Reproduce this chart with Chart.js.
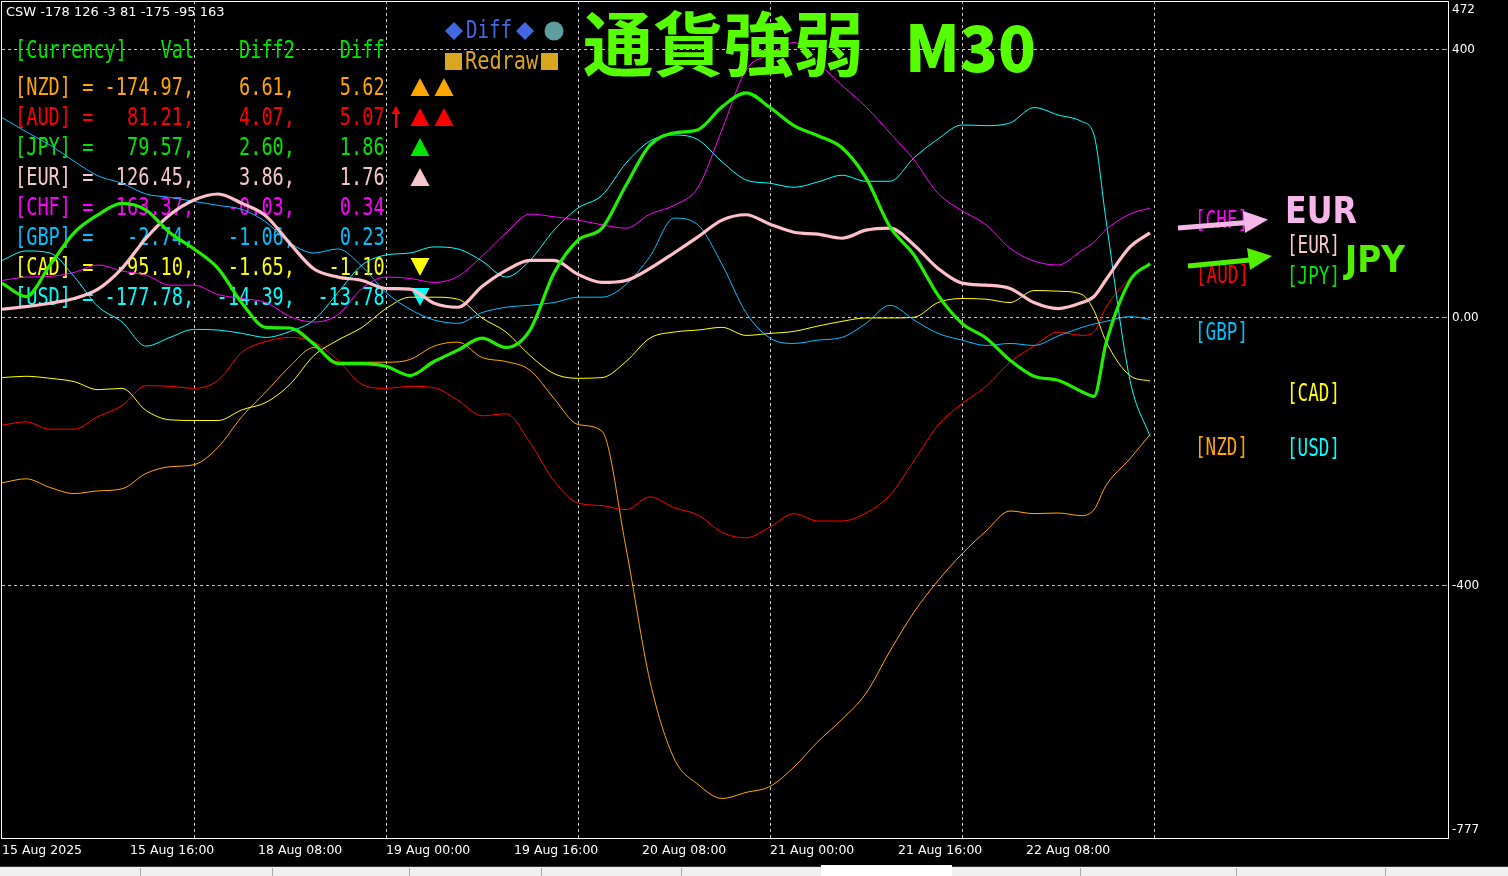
<!DOCTYPE html>
<html><head><meta charset="utf-8">
<script src="https://cdn.jsdelivr.net/npm/chart.js@4/dist/chart.umd.min.js"></script>
<style>html,body{margin:0;padding:0;background:#000;overflow:hidden}#wrap{position:relative;width:1508px;height:876px}canvas{display:block}</style>
</head><body><div id="wrap"><canvas id="c" width="1508" height="876"></canvas></div>
<script>
// ---- data (x = M30 bar index from 15 Aug 2025 00:00) ----
const bars = [0,6,12,18,24,30,36,42,48,54,60,66,72,78,84,90,96,102,108,114,120,126,132,138,144,150,156,162,168,174,180,186,192,198,204,210,216,222,228,234,240,246,252,258,264,270,273,276,282,287];
const JPY = [51,31,78,126,153,170,160,126,102,73, 21,-15,-16,-40,-69,-69,-73,-87,-66,-49, -31,-45,-19,66,115,133,197,257,275,280, 314,335,313,286,271,253,208,135,93,33, -9,-31,-64,-88,-94,-111,-118,-39,55,80];
const EUR = [12,16,21,28,42,73,118,153,175,184, 170,151,110,72,60,55,43,42,21,15, 46,70,85,85,64,52,55,73,96,120, 145,153,139,127,124,118,130,133,108,73, 51,48,43,22,13,22,31,56,105,126];
const CHF = [55,60,61,67,78,69,63,48,48,34, 28,22,1,-7,4,43,60,58,52,61, 91,126,154,150,145,138,133,154,167,194, 280,369,392,410,380,346,314,275,235,185, 159,138,103,84,78,100,112,131,154,163];
const USD = [85,99,96,61,16,-7,-43,-30,-18,-19, -24,-30,-21,-4,37,78,93,96,105,102, 84,60,85,130,163,182,230,263,272,265, 232,205,200,194,202,212,203,203,238,266, 287,286,290,313,302,292,272,145,-94,-178];
const GBP = [298,277,257,233,211,200,184,179,173,167, 161,142,111,96,102,76,37,12,-4,-9, 7,15,18,22,30,30,49,91,148,138, 79,7,-31,-39,-34,-30,-9,18,-4,-24, -34,-42,-39,-42,-28,-15,-10,-6,1,-3];
const CAD = [-90,-88,-91,-96,-108,-106,-139,-153,-154,-154, -138,-127,-100,-57,-34,-15,13,30,30,27, -1,-22,-57,-84,-91,-90,-66,-31,-22,-19, -15,-27,-24,-21,-13,-6,-1,-1,0,22, 28,27,22,40,39,34,10,-36,-87,-95];
const AUD = [-161,-156,-167,-167,-148,-132,-102,-103,-106,-94, -52,-36,-30,-37,-64,-100,-106,-103,-105,-124, -147,-144,-187,-244,-277,-281,-287,-268,-284,-295, -321,-329,-313,-293,-304,-304,-292,-265,-214,-161, -129,-103,-67,-43,-22,-27,-22,15,58,81];
const NZD = [-247,-241,-254,-263,-259,-256,-233,-223,-220,-194, -148,-111,-73,-45,-67,-67,-67,-63,-43,-37, -60,-66,-79,-121,-160,-170,-344,-543,-658,-697, -718,-709,-700,-671,-633,-600,-561,-498,-440,-393, -353,-319,-289,-293,-292,-296,-287,-251,-211,-175];

const xTickBars = [0,32,64,96,128,160,192,224,256];
const xTickLabels = ['15 Aug 2025','15 Aug 16:00','18 Aug 08:00','19 Aug 00:00','19 Aug 16:00','20 Aug 08:00','21 Aug 00:00','21 Aug 16:00','22 Aug 08:00'];
const xGridBars = [48,96,144,192,240,288];
const yTicks = [472,400,0,-400,-777];
const yTickLabels = ['472','400','0.00','-400','-777'];
const yGrid = [400,0,-400];

const tableCur = ['NZD','AUD','JPY','EUR','CHF','GBP','CAD','USD'];
const tableVal = [-174.97,81.21,79.57,126.45,163.37,-2.74,-95.10,-177.78];
const tableDiff2 = [6.61,4.07,2.60,3.86,-0.03,-1.06,-1.65,-14.39];
const tableDiff = [5.62,5.07,1.86,1.76,0.34,0.23,-1.10,-13.78];
const tableMarks = ['▲▲','↑▲▲','▲','▲','','','▼','▼'];
const headerText = 'CSW -178 126 -3 81 -175 -95 163';

const textColors = {NZD:'#FFA500',AUD:'#FF0000',JPY:'#00E600',EUR:'#F5C6CE',CHF:'#FF00FF',GBP:'#00BFFF',CAD:'#FFFF00',USD:'#00FFFF'};

const seriesDefs = [
  {label:'JPY', data:JPY, color:'#22F000', width:3.2},
  {label:'EUR', data:EUR, color:'#FFC0CB', width:3.2},
  {label:'CHF', data:CHF, color:'#FF00FF', width:1},
  {label:'USD', data:USD, color:'#00FFFF', width:1},
  {label:'GBP', data:GBP, color:'#00BFFF', width:1},
  {label:'CAD', data:CAD, color:'#FFFF00', width:1},
  {label:'AUD', data:AUD, color:'#FF0000', width:1},
  {label:'NZD', data:NZD, color:'#FFA500', width:1}
];

function mono(ctx, text, x, y, size, cw, color){
  ctx.save();
  ctx.font = size + 'px "DejaVu Sans Mono"';
  const m = ctx.measureText('M').width;
  ctx.translate(x, y); ctx.scale(cw / m, 1);
  ctx.fillStyle = color; ctx.textBaseline = 'middle'; ctx.textAlign = 'left';
  ctx.fillText(text, 0, 0);
  ctx.restore();
}
function fit(ctx, text, x, y, font, width, color){
  ctx.save();
  ctx.font = font;
  const w = ctx.measureText(text).width;
  ctx.translate(x, y); ctx.scale(width / w, 1);
  ctx.fillStyle = color; ctx.textBaseline = 'alphabetic'; ctx.textAlign = 'left';
  ctx.fillText(text, 0, 0);
  ctx.restore();
}
function tri(ctx, cx, cy, up, color){
  ctx.beginPath();
  if (up){ ctx.moveTo(cx, cy-9); ctx.lineTo(cx+9.5, cy+9); ctx.lineTo(cx-9.5, cy+9); }
  else { ctx.moveTo(cx-9.5, cy-9); ctx.lineTo(cx+9.5, cy-9); ctx.lineTo(cx, cy+9); }
  ctx.closePath(); ctx.fillStyle = color; ctx.fill();
}
function arrow(ctx, x0, y0, x1, y1, hx1, hy1, tx, ty, hx2, hy2, color){
  ctx.save();
  ctx.strokeStyle = color; ctx.lineWidth = 5; ctx.lineCap = 'butt';
  ctx.beginPath(); ctx.moveTo(x0, y0); ctx.lineTo(x1, y1); ctx.stroke();
  ctx.beginPath(); ctx.moveTo(hx1, hy1); ctx.lineTo(tx, ty); ctx.lineTo(hx2, hy2); ctx.closePath();
  ctx.fillStyle = color; ctx.fill();
  ctx.restore();
}

const decor = {
  id: 'decor',
  beforeDraw(chart){
    const ctx = chart.ctx;
    ctx.save();
    ctx.fillStyle = '#000'; ctx.fillRect(0, 0, chart.width, chart.height);
    ctx.fillStyle = '#F0F0F0'; ctx.fillRect(0, 866, 1508, 10);
    ctx.fillStyle = '#FFFFFF'; ctx.fillRect(821, 865, 131, 11);
    ctx.strokeStyle = '#303030'; ctx.lineWidth = 1;
    ctx.beginPath(); ctx.moveTo(0, 866.5); ctx.lineTo(821, 866.5); ctx.moveTo(952, 866.5); ctx.lineTo(1508, 866.5); ctx.stroke();
    ctx.strokeStyle = '#A8A8A8';
    ctx.beginPath();
    [140,272,409,541,681,1080,1236,1385].forEach(x=>{ctx.moveTo(x+0.5, 868); ctx.lineTo(x+0.5, 876);});
    ctx.stroke();
    ctx.restore();
  },
  beforeDatasetsDraw(chart){
    const ctx = chart.ctx, xs = chart.scales.x, ys = chart.scales.y, a = chart.chartArea;
    ctx.save();
    ctx.strokeStyle = '#C8C8C8'; ctx.lineWidth = 1; ctx.setLineDash([3,3]);
    ctx.beginPath();
    yGrid.forEach(v=>{ const y = Math.round(ys.getPixelForValue(v)) + 0.5; ctx.moveTo(a.left, y); ctx.lineTo(a.right, y); });
    xGridBars.forEach(b=>{ const x = Math.round(xs.getPixelForValue(b)) + 0.5; ctx.moveTo(x, a.top); ctx.lineTo(x, a.bottom); });
    ctx.stroke();
    ctx.setLineDash([]);
    ctx.font = '13px "DejaVu Sans"'; ctx.fillStyle = '#FFFFFF'; ctx.textBaseline = 'middle';
    ctx.fillText(headerText, 6, 13);
    const cw = 11.2, x0 = 15;
    mono(ctx, '[Currency]   Val    Diff2    Diff', x0, 51.5, 24, cw, '#00E600');
    tableCur.forEach((c, i)=>{
      const y = 87 + 30*i;
      const s = '[' + c + '] = ' + tableVal[i].toFixed(2).padStart(7) + ',' + tableDiff2[i].toFixed(2).padStart(8) + ',' + tableDiff[i].toFixed(2).padStart(8);
      mono(ctx, s, x0, y + 1.5, 24, cw, textColors[c]);
      const mk = tableMarks[i];
      let tx = 420;
      for (const ch of mk){
        if (ch === '↑'){
          ctx.save(); ctx.strokeStyle = textColors[c]; ctx.fillStyle = textColors[c]; ctx.lineWidth = 2;
          ctx.beginPath(); ctx.moveTo(396, y+11); ctx.lineTo(396, y-6); ctx.stroke();
          ctx.beginPath(); ctx.moveTo(396, y-11); ctx.lineTo(400.5, y-3); ctx.lineTo(391.5, y-3); ctx.closePath(); ctx.fill();
          ctx.restore();
          continue;
        }
        tri(ctx, tx, y, ch === '▲', textColors[c]);
        tx += 24;
      }
    });
    ctx.fillStyle = '#4169E1';
    [[454,31],[525,31]].forEach(([cx,cy])=>{ ctx.beginPath(); ctx.moveTo(cx, cy-9); ctx.lineTo(cx+9, cy); ctx.lineTo(cx, cy+9); ctx.lineTo(cx-9, cy); ctx.closePath(); ctx.fill(); });
    mono(ctx, 'Diff', 466, 32, 24, 11.5, '#4169E1');
    ctx.fillStyle = '#5F9EA0'; ctx.beginPath(); ctx.arc(554, 31, 9.5, 0, Math.PI*2); ctx.fill();
    ctx.fillStyle = '#DAA520';
    ctx.fillRect(445, 53, 17, 17); ctx.fillRect(541, 53, 17, 17);
    mono(ctx, 'Redraw', 465, 63, 24, 12.2, '#DAA520');
    ctx.restore();
  },
  afterDatasetsDraw(chart){
    const ctx = chart.ctx, xs = chart.scales.x, ys = chart.scales.y;
    ctx.save();
    fit(ctx, '通貨強弱', 583, 71, 'bold 70px "Noto Sans CJK JP"', 281, '#56FF00');
    fit(ctx, 'M30', 905, 72, '900 64px "Noto Sans CJK JP"', 131, '#56FF00');
    ctx.strokeStyle = '#FFFFFF'; ctx.lineWidth = 1;
    ctx.strokeRect(1.5, 1.5, 1447, 837);
    ctx.strokeStyle = '#9A9A9A';
    ctx.beginPath();
    yGrid.forEach(v=>{ const y = Math.round(ys.getPixelForValue(v)) + 0.5; ctx.moveTo(1443, y); ctx.lineTo(1447, y); });
    ctx.stroke();
    ctx.font = '12px "DejaVu Sans"'; ctx.fillStyle = '#FFFFFF'; ctx.textAlign = 'left';
    yTicks.forEach((v, i)=>{
      let y = ys.getPixelForValue(v);
      if (i === 0){ ctx.textBaseline = 'top'; y = 4; }
      else if (i === yTicks.length - 1){ ctx.textBaseline = 'bottom'; y = 836; }
      else ctx.textBaseline = 'middle';
      ctx.fillText(yTickLabels[i], 1452, y + (ctx.textBaseline === 'middle' ? 1 : 0));
    });
    ctx.font = '12.5px "DejaVu Sans"';
    ctx.textBaseline = 'middle';
    xTickBars.forEach((b, i)=>{ ctx.fillText(xTickLabels[i], xs.getPixelForValue(b), 851); });
    const cw2 = 10.6;
    mono(ctx, '[CHF]', 1195, 221.5, 24, cw2, textColors.CHF);
    mono(ctx, '[AUD]', 1196, 276.5, 24, cw2, textColors.AUD);
    mono(ctx, '[GBP]', 1195, 333.5, 24, cw2, textColors.GBP);
    mono(ctx, '[NZD]', 1195, 448.5, 24, cw2, textColors.NZD);
    mono(ctx, '[EUR]', 1287, 246.5, 24, cw2, textColors.EUR);
    mono(ctx, '[JPY]', 1287, 277.5, 24, cw2, textColors.JPY);
    mono(ctx, '[CAD]', 1287, 394.5, 24, cw2, textColors.CAD);
    mono(ctx, '[USD]', 1287, 449.5, 24, cw2, textColors.USD);
    arrow(ctx, 1178, 228, 1247, 222.5, 1243, 211, 1268, 219.5, 1245, 233, '#F7B6EA');
    arrow(ctx, 1188, 266, 1250, 260, 1247, 248, 1272, 256, 1250, 270, '#50F000');
    fit(ctx, 'EUR', 1285, 223, 'bold 38px "DejaVu Sans"', 72, '#F7B6EA');
    fit(ctx, 'JPY', 1345, 272, 'bold 38px "DejaVu Sans"', 60, '#50F000');
    ctx.restore();
  }
};

const datasets = seriesDefs.map((s, i)=>({
  label: s.label,
  data: bars.map((b, j)=>({x: b, y: s.data[j]})),
  borderColor: s.color,
  borderWidth: s.width,
  pointRadius: 0,
  fill: false,
  cubicInterpolationMode: 'monotone',
  borderJoinStyle: 'round',
  order: i
}));

new Chart(document.getElementById('c'), {
  type: 'line',
  data: { datasets },
  options: {
    responsive: false,
    animation: false,
    devicePixelRatio: 1,
    layout: { padding: { left: 2, right: 59, top: 1, bottom: 38 } },
    plugins: { legend: { display: false }, tooltip: { enabled: false } },
    scales: {
      x: { type: 'linear', min: 0, max: 361.75, display: false },
      y: { type: 'linear', min: -777, max: 472, display: false }
    }
  },
  plugins: [decor]
});
</script>
</body></html>
